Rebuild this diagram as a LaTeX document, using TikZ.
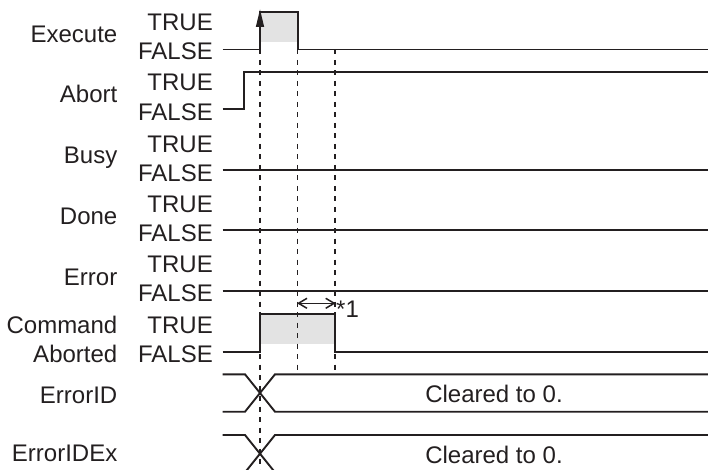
\documentclass[tikz,border=0pt]{standalone}
\usepackage{fontspec}
\setmainfont{Liberation Sans}
\definecolor{ink}{HTML}{231F20}
\definecolor{pulsegray}{HTML}{E3E3E3}
\begin{document}
\begin{tikzpicture}[x=1pt,y=-1pt,
  sig/.style={line width=1.9pt, draw=ink, line join=miter},
  guide/.style={line width=1.3pt, draw=ink, dash pattern=on 5pt off 5.5pt},
  lbl/.style={anchor=base east, inner sep=0pt, text=ink, font=\fontsize{24}{28}\selectfont},
  txt/.style={inner sep=0pt, text=ink, font=\fontsize{24}{28}\selectfont},
  ]
\useasboundingbox (0,0) rectangle (708,470);
\clip (0,0) rectangle (708,470);

% shaded pulses
\fill[pulsegray] (260,12) rectangle (297.7,42);
\fill[pulsegray] (260,314) rectangle (335,344);

% guide lines
\draw[guide] (260,49.5) -- (260,470);
\draw[guide] (297.7,49.5) -- (297.7,374.3);
\draw[guide] (335,49.5) -- (335,374.3);

% labels
\node[lbl] (nExe) at (117.5,43) {Execute};
\node[lbl] (nAbo) at (117.5,103) {Abort};
\node[lbl] (nBus) at (117.5,163.5) {Busy};
\node[lbl] (nDon) at (117.5,224) {Done};
\node[lbl] (nErr) at (117.5,285) {Error};
\node[lbl] (nCmd) at (117.5,333.3) {Command};
\node[lbl] (nCmA) at (117.5,362.7) {Aborted};
\node[lbl] (nEID) at (117.5,403.3) {ErrorID};
\node[lbl] (nEIX) at (117.5,461.7) {ErrorIDEx};

\foreach \f/\n in {60/a,120.3/b,181.5/c,241.5/d,301.7/e,362.7/f}{
  \node[lbl] (T\n) at (213,\f-29.3) {TRUE};
  \node[lbl] (F\n) at (213,\f) {FALSE};
}

% Execute
\draw[sig] (222.7,49.5) -- (260,49.5) -- (260,12) -- (297.7,12) -- (297.7,49.5) -- (708,49.5);
\fill[ink] (255.8,27) -- (260,9.5) -- (264.2,27) -- cycle;
% Abort
\draw[sig] (222.7,109) -- (244,109) -- (244,71.7) -- (708,71.7);
% Busy, Done, Error
\draw[sig] (222.7,170) -- (708,170);
\draw[sig] (222.7,230) -- (708,230);
\draw[sig] (222.7,291) -- (708,291);
% CommandAborted
\draw[sig] (222.7,351.7) -- (260,351.7) -- (260,314) -- (335,314) -- (335,351.7) -- (708,351.7);
% ErrorID
\draw[sig] (222.7,374.3) -- (245,374.3) -- (275,411.7) -- (708,411.7);
\draw[sig] (222.7,411.7) -- (245,411.7) -- (275,374.3) -- (708,374.3);
% ErrorIDEx
\draw[sig] (222.7,435) -- (245,435) -- (275,472.4) -- (708,472.4);
\draw[sig] (222.7,472.4) -- (245,472.4) -- (275,435) -- (708,435);

% *1 interval
\coordinate (ia) at (298.5,303.3);
\coordinate (ib) at (334.2,303.3);
\draw[line width=1.5pt, draw=ink] (ia) -- (ib);
\draw[line width=1.5pt, draw=ink, line join=miter] ([shift={(8.5,-5)}]ia) -- (ia) -- ([shift={(8.5,5)}]ia);
\draw[line width=1.5pt, draw=ink, line join=miter] ([shift={(-8.5,-5)}]ib) -- (ib) -- ([shift={(-8.5,5)}]ib);
\node[txt, anchor=base west] (star) at (336,317) {*1};

% values
\node[txt, anchor=base] (v1) at (494,402.3) {Cleared to 0.};
\node[txt, anchor=base] (v2) at (494,463.3) {Cleared to 0.};
\end{tikzpicture}
\end{document}
